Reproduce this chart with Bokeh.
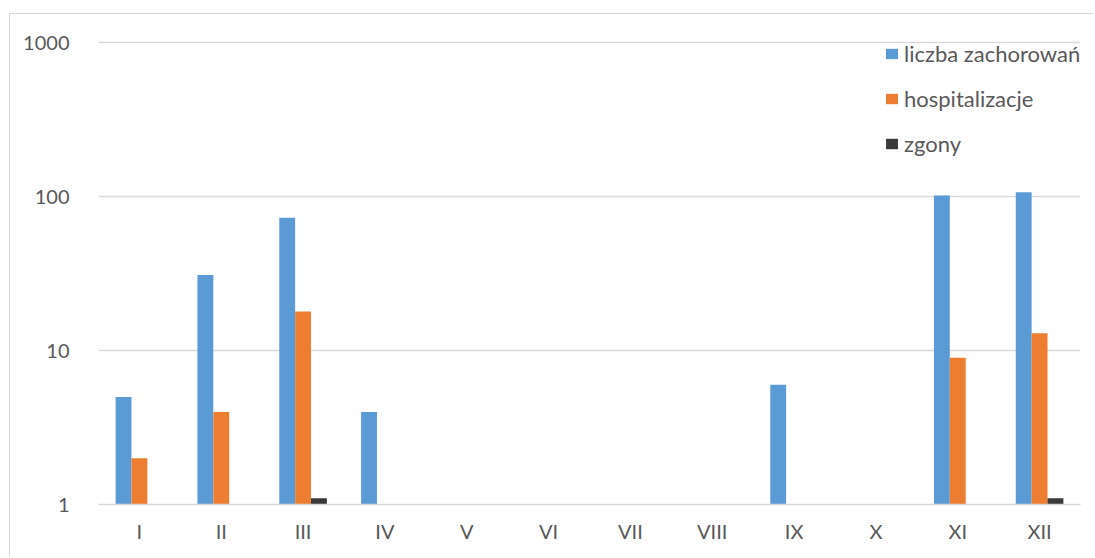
import math
from bokeh.plotting import figure
from bokeh.models import FactorRange, Range1d, Legend, LegendItem, FixedTicker, ColumnDataSource
from bokeh.transform import dodge
from bokeh.embed import file_html
from bokeh.resources import INLINE

months = ["I", "II", "III", "IV", "V", "VI", "VII", "VIII", "IX", "X", "XI", "XII"]
zachorowania = [5, 31, 73, 4, None, None, None, None, 6, None, 102, 107]
hospitalizacje = [2, 4, 18, None, None, None, None, None, None, None, 9, 13]
zgony = [None, None, 1.1, None, None, None, None, None, None, None, None, 1.1]
y_ticks = [1, 10, 100, 1000]

series_names = ["liczba zachorowań", "hospitalizacje", "zgony"]
series_values = [zachorowania, hospitalizacje, zgony]
colors = ["#5B9BD5", "#ED7D31", "#3A3A3A"]

TEXT = "#595959"
GRID = "#D9D9D9"
FONT = "Lato"

p = figure(
    x_range=FactorRange(*months),
    y_range=Range1d(1, 1170),
    y_axis_type="log",
    width=1084, height=543,
    output_backend="svg", toolbar_location=None,
    min_border_left=88, min_border_right=14, min_border_top=18, min_border_bottom=53,
)
p.styles = {"margin-left": "9px", "margin-top": "13px",
            "border-left": "1.5px solid #D9D9D9", "border-top": "1.5px solid #D9D9D9"}

bar_w = 0.194
offsets = [-bar_w, 0.0, bar_w]
items = []
for name, vals, col, off in zip(series_names, series_values, colors, offsets):
    xs = [m for m, v in zip(months, vals) if v is not None]
    ys = [v for v in vals if v is not None]
    src = ColumnDataSource(dict(x=xs, top=ys))
    r = p.vbar(x=dodge("x", off, range=p.x_range), top="top", bottom=1, width=bar_w,
               source=src, fill_color=col, line_color=None)
    items.append(LegendItem(label=name, renderers=[r]))

legend = Legend(items=items, location=(786, 346))
legend.glyph_width = 15
legend.glyph_height = 13
legend.label_height = 30
legend.spacing = 15
legend.padding = 0
legend.margin = 0
legend.label_standoff = 5
legend.label_text_font = FONT
legend.label_text_font_size = "22px"
legend.label_text_color = TEXT
legend.border_line_color = None
legend.background_fill_alpha = 0
p.add_layout(legend)

p.outline_line_color = None
p.xgrid.grid_line_color = None
p.ygrid.grid_line_color = GRID
p.ygrid.grid_line_width = 1.5
p.ygrid.minor_grid_line_color = None

p.yaxis.ticker = FixedTicker(ticks=y_ticks)
p.yaxis.major_label_overrides = {t: str(t) for t in y_ticks}
p.yaxis.axis_line_color = None
p.yaxis.major_tick_line_color = None
p.yaxis.minor_tick_line_color = None
p.yaxis.major_label_standoff = 23
p.yaxis.major_label_text_font = FONT
p.yaxis.major_label_text_font_size = "20px"
p.yaxis.major_label_text_color = TEXT

p.xaxis.axis_line_color = GRID
p.xaxis.axis_line_width = 1.5
p.xaxis.major_tick_line_color = None
p.xaxis.minor_tick_line_color = None
p.xaxis.major_label_standoff = 8
p.xaxis.major_label_text_font = FONT
p.xaxis.major_label_text_font_size = "20px"
p.xaxis.major_label_text_color = TEXT

open("out.html", "w").write(file_html(p, INLINE))
